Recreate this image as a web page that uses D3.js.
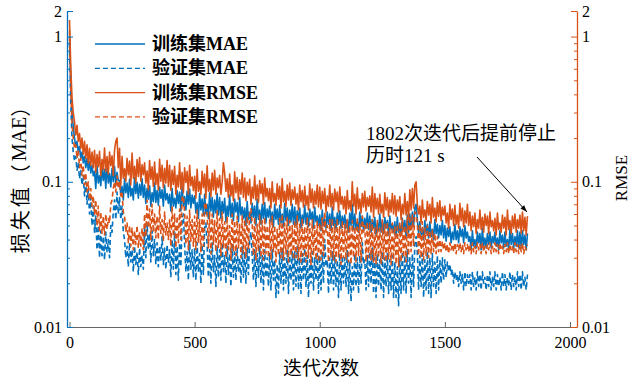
<!DOCTYPE html>
<html>
<head>
<meta charset="utf-8">
<script src="https://cdn.jsdelivr.net/npm/d3@7"></script>
<style>
  body { margin: 0; background: #fff; }
  svg { display: block; }
</style>
</head>
<body>
<svg id="chart"></svg>
<script>
// one stored point every 5 iterations, 0 .. 1830
const iterations = d3.range(0, 1831, 5);

const trainMAE = [
  1.0, .5, .3, .24, .2, .175, .19, .16, .175, .145, .16, .135, .15, .125, .145, .12, .138, .115, .13, .11,
  .118, .09, .13, .098, .11, .094, .126, .102, .122, .09, .136, .098, .114, .092, .124, .1, .128, .094, .116, .102,
  .102, .081, .093, .075, .105, .084, .098, .078, .104, .08, .09, .075, .107, .083, .099, .077, .096, .081, .105, .078,
  .095, .071, .09, .076, .094, .068, .084, .073, .098, .072, .087, .069, .092, .077, .088, .068, .095, .075, .083, .071,
  .082, .063, .09, .068, .077, .066, .087, .071, .085, .063, .094, .068, .079, .064, .086, .07, .089, .066, .081, .071,
  .08, .061, .072, .056, .083, .064, .076, .059, .082, .06, .07, .056, .084, .063, .078, .057, .075, .061, .083, .059,
  .078, .056, .073, .061, .077, .053, .068, .058, .081, .057, .071, .054, .076, .062, .072, .053, .078, .059, .067, .056,
  .066, .05, .073, .055, .062, .052, .071, .057, .068, .05, .076, .055, .064, .051, .07, .056, .072, .052, .065, .057,
  .068, .053, .062, .049, .07, .055, .065, .051, .069, .052, .06, .049, .071, .054, .066, .05, .064, .053, .07, .051,
  .067, .05, .063, .054, .066, .048, .059, .052, .069, .051, .061, .049, .065, .055, .062, .048, .067, .053, .058, .05,
  .059, .046, .064, .05, .055, .048, .062, .051, .06, .046, .067, .05, .057, .047, .061, .051, .063, .048, .058, .051,
  .059, .048, .055, .045, .061, .05, .07, .047, .06, .047, .053, .045, .062, .049, .058, .046, .056, .048, .061, .047,
  .058, .045, .055, .048, .057, .043, .052, .046, .06, .045, .054, .044, .057, .048, .054, .043, .058, .047, .051, .045,
  .053, .042, .057, .045, .05, .044, .056, .047, .054, .042, .059, .045, .06, .047, .062, .049, .066, .07, .055, .044,
  .053, .043, .048, .04, .054, .044, .051, .041, .053, .042, .047, .04, .055, .044, .051, .041, .05, .043, .054, .041,
  .05, .039, .048, .042, .049, .038, .045, .04, .051, .04, .046, .038, .049, .042, .047, .038, .05, .041, .045, .039,
  .042, .034, .046, .036, .04, .035, .045, .038, .044, .034, .048, .036, .041, .035, .044, .037, .045, .035, .042, .038,
  .045, .036, .041, .034, .046, .038, .043, .035, .045, .036, .04, .034, .047, .037, .044, .035, .042, .036, .046, .035,
  .045, .035, .046, .037, .043, .034, .044
];
const valMAE = [
  .9, .35, .2, .16, .14, .15, .12, .135, .105, .12, .095, .11, .08, .1, .07, .09, .06, .078, .05, .068,
  .045, .058, .034, .05, .03, .046, .031, .042, .029, .045, .033, .04, .03, .05, .045, .062, .075, .055, .085, .06,
  .078, .055, .068, .045, .04, .03, .036, .026, .038, .028, .034, .024, .036, .027, .033, .023, .035, .026, .031, .025,
  .048, .03, .052, .034, .044, .028, .046, .031, .04, .027, .038, .026, .036, .029, .042, .027, .035, .025, .037, .028,
  .034, .022, .04, .025, .045, .023, .036, .021, .038, .026, .055, .06, .037, .024, .033, .021, .039, .025, .034, .022,
  .035, .021, .038, .024, .032, .02, .037, .023, .048, .052, .036, .022, .034, .02, .038, .024, .031, .019, .036, .022,
  .034, .021, .038, .024, .031, .02, .036, .023, .032, .019, .037, .022, .033, .021, .035, .024, .03, .02, .036, .022,
  .033, .02, .035, .023, .04, .045, .031, .021, .034, .019, .032, .022, .036, .02, .031, .018, .034, .022, .03, .019,
  .032, .018, .034, .021, .029, .016, .027, .017, .033, .02, .035, .018, .03, .02, .034, .017, .031, .021, .033, .018,
  .033, .019, .036, .018, .03, .017, .032, .021, .035, .019, .031, .016, .029, .02, .033, .018, .03, .021, .032, .017,
  .031, .018, .033, .02, .04, .026, .029, .017, .03, .02, .033, .018, .031, .019, .029, .016, .032, .018, .031, .02,
  .03, .019, .034, .017, .028, .015, .026, .018, .032, .019, .03, .017, .031, .02, .038, .027, .029, .018, .031, .019,
  .033, .02, .035, .017, .03, .016, .032, .019, .029, .018, .033, .016, .03, .019, .032, .017, .029, .018, .031, .016,
  .028, .016, .026, .014, .03, .017, .033, .018, .031, .017, .034, .02, .03, .016, .032, .019, .037, .042, .032, .018,
  .031, .019, .032, .016, .029, .018, .033, .017, .03, .016, .032, .019, .028, .017, .031, .018, .029, .02, .03, .021,
  .029, .022, .028, .024, .027, .023, .025, .02, .024, .021, .023, .019, .024, .02, .023, .018, .024, .019, .023, .02,
  .023, .018, .024, .019, .022, .018, .024, .019, .023, .018, .024, .02, .022, .018, .023, .019, .024, .018, .022, .019,
  .024, .018, .023, .019, .022, .018, .024, .019, .023, .018, .022, .019, .024, .018, .023, .019, .022, .018, .024, .019,
  .023, .018, .024, .019, .022, .018, .023
];
const trainRMSE = [
  1.3, .62, .38, .3, .26, .21, .245, .19, .215, .17, .2, .155, .19, .145, .18, .135, .17, .13, .16, .125,
  .165, .116, .154, .127, .162, .11, .143, .121, .171, .118, .149, .113, .16, .129, .151, .11, .165, .19, .2, .125,
  .17, .095, .15, .106, .123, .101, .145, .112, .139, .095, .158, .106, .128, .098, .142, .109, .147, .101, .131, .112,
  .135, .098, .119, .088, .14, .104, .127, .093, .137, .096, .114, .088, .143, .101, .13, .091, .124, .098, .14, .093,
  .13, .087, .12, .096, .128, .082, .111, .092, .135, .089, .116, .084, .125, .099, .118, .082, .13, .094, .108, .087,
  .109, .077, .122, .086, .1, .082, .118, .091, .113, .077, .129, .086, .104, .079, .115, .088, .12, .082, .106, .091,
  .111, .082, .099, .135, .115, .086, .105, .078, .113, .08, .095, .074, .117, .084, .107, .076, .103, .082, .115, .078,
  .106, .074, .099, .081, .104, .07, .092, .077, .11, .075, .095, .072, .102, .083, .097, .07, .106, .079, .09, .074,
  .09, .066, .1, .073, .083, .069, .097, .076, .093, .066, .105, .073, .086, .068, .095, .075, .098, .069, .088, .076,
  .092, .07, .083, .064, .095, .073, .087, .067, .093, .069, .08, .064, .097, .072, .089, .066, .086, .07, .095, .067,
  .092, .065, .086, .071, .09, .062, .08, .068, .095, .067, .083, .064, .089, .073, .085, .062, .092, .07, .079, .065,
  .079, .06, .087, .065, .074, .063, .1, .068, .082, .06, .091, .065, .076, .061, .083, .067, .086, .063, .078, .068,
  .08, .062, .092, .057, .083, .065, .077, .06, .082, .061, .07, .057, .084, .064, .078, .058, .075, .062, .083, .06,
  .08, .058, .075, .063, .079, .055, .07, .06, .083, .059, .073, .056, .088, .064, .09, .066, .095, .1, .07, .06,
  .068, .052, .075, .057, .064, .054, .073, .059, .07, .052, .078, .057, .066, .053, .072, .058, .074, .054, .067, .059,
  .068, .052, .061, .048, .07, .055, .065, .05, .069, .051, .059, .048, .071, .054, .066, .049, .063, .052, .07, .05,
  .062, .046, .058, .049, .061, .044, .055, .048, .064, .047, .057, .045, .06, .05, .058, .044, .062, .049, .054, .046,
  .056, .043, .061, .047, .052, .045, .059, .048, .057, .043, .064, .047, .054, .044, .058, .048, .06, .045, .055, .048,
  .059, .044, .062, .046, .057, .043, .058
];
const valRMSE = [
  1.1, .45, .25, .2, .17, .18, .145, .165, .125, .145, .11, .13, .095, .115, .085, .1, .075, .09, .068, .08,
  .06, .075, .05, .068, .046, .062, .044, .058, .043, .06, .047, .056, .052, .07, .075, .09, .1, .085, .11, .09,
  .1, .08, .085, .062, .058, .045, .052, .038, .05, .036, .048, .034, .046, .037, .05, .035, .045, .036, .048, .034,
  .06, .042, .075, .048, .065, .04, .07, .045, .06, .041, .058, .04, .068, .044, .055, .039, .062, .043, .052, .04,
  .055, .036, .068, .042, .06, .035, .058, .038, .065, .04, .078, .08, .062, .037, .058, .034, .064, .039, .055, .036,
  .058, .034, .064, .038, .055, .033, .06, .036, .07, .072, .058, .035, .062, .032, .06, .037, .054, .033, .063, .035,
  .056, .031, .062, .035, .053, .03, .058, .034, .05, .029, .06, .033, .054, .031, .058, .035, .051, .03, .059, .032,
  .055, .03, .058, .034, .062, .065, .052, .031, .057, .029, .051, .033, .059, .03, .054, .029, .057, .032, .05, .03,
  .055, .029, .058, .033, .05, .028, .047, .031, .056, .03, .06, .029, .052, .032, .057, .028, .054, .031, .05, .029,
  .054, .03, .058, .029, .051, .028, .056, .031, .049, .028, .057, .03, .052, .027, .055, .031, .05, .029, .054, .028,
  .052, .029, .057, .031, .062, .045, .05, .028, .055, .03, .056, .029, .051, .028, .056, .03, .049, .027, .054, .03,
  .051, .029, .055, .028, .05, .027, .054, .03, .049, .028, .057, .031, .052, .028, .058, .045, .05, .028, .053, .03,
  .052, .029, .055, .028, .049, .027, .054, .03, .048, .027, .055, .029, .051, .028, .053, .029, .048, .027, .052, .029,
  .049, .027, .051, .026, .053, .028, .055, .03, .05, .028, .057, .031, .058, .033, .06, .036, .062, .06, .052, .031,
  .051, .03, .053, .029, .048, .031, .05, .03, .046, .032, .047, .033, .044, .032, .042, .033, .04, .033, .039, .034,
  .038, .033, .037, .032, .038, .034, .037, .033, .038, .032, .037, .034, .038, .033, .037, .032, .038, .034, .037, .033,
  .037, .032, .038, .033, .036, .032, .038, .034, .037, .032, .038, .033, .036, .032, .037, .034, .038, .032, .036, .033,
  .038, .033, .037, .032, .038, .034, .036, .032, .037, .033, .038, .032, .037, .034, .036, .032, .038, .033, .037, .032,
  .037, .033, .038, .032, .036, .034, .037
];

const seriesNames = ["训练集MAE", "验证集MAE", "训练集RMSE", "验证集RMSE"];
const xTicks = [0, 500, 1000, 1500, 2000];
const yTicks = [0.01, 0.1, 1, 1.5]; // top tick is printed rounded, as "2"
const yMinorTicks = [0.02, 0.03, 0.04, 0.05, 0.06, 0.07, 0.08, 0.09,
                     0.2, 0.3, 0.4, 0.5, 0.6, 0.7, 0.8, 0.9];
const noteLines = ["1802次迭代后提前停止", "历时121 s"];

const BLUE = "#0072BD", ORANGE = "#D95319";
const FONT = "'Liberation Serif', 'Times New Roman', 'Noto Sans CJK SC', serif";
const CJK = "'Noto Sans CJK SC', sans-serif";

class LossChart {
  constructor(_config) {
    this.config = {
      parentElement: _config.parentElement,
      containerWidth: _config.containerWidth || 633,
      containerHeight: _config.containerHeight || 380,
      margin: { top: 11, bottom: 53, right: 56, left: 67 },
    }
    this.series = [
      { name: seriesNames[0], values: trainMAE, color: BLUE, dash: null },
      { name: seriesNames[1], values: valMAE, color: BLUE, dash: "5,3" },
      { name: seriesNames[2], values: trainRMSE, color: ORANGE, dash: null },
      { name: seriesNames[3], values: valRMSE, color: ORANGE, dash: "5,3" },
    ];
    this.initVis();
  }

  initVis() {
    let vis = this;
    vis.width = vis.config.containerWidth - vis.config.margin.left - vis.config.margin.right;
    vis.height = vis.config.containerHeight - vis.config.margin.top - vis.config.margin.bottom;

    vis.root = d3.select(vis.config.parentElement)
      .attr('width', vis.config.containerWidth)
      .attr('height', vis.config.containerHeight)
      .style('font-family', FONT);

    vis.svg = vis.root.append('g')
      .attr('transform', `translate(${vis.config.margin.left},${vis.config.margin.top})`);

    // x axis box runs a little past 0 and 2000
    vis.x = d3.scaleLinear().domain([-10, 2028]).range([0, vis.width]);
    vis.y = d3.scaleLog().domain([0.01, 1.5]).range([vis.height, 0]);

    vis.updateVis();
  }

  updateVis() {
    let vis = this;

    vis.svg.append('clipPath').attr('id', 'plot-clip')
      .append('rect').attr('width', vis.width).attr('height', vis.height);

    const line = d3.line()
      .x((d, i) => vis.x(iterations[i]))
      .y(d => vis.y(d));

    vis.svg.append('g').attr('clip-path', 'url(#plot-clip)')
      .selectAll('path')
      .data(vis.series)
      .join('path')
      .attr('fill', 'none')
      .attr('stroke', d => d.color)
      .attr('stroke-width', 1.6)
      .attr('stroke-dasharray', d => d.dash)
      .attr('stroke-linejoin', 'round')
      .attr('d', d => line(d.values));

    // bottom axis (ticks point inside)
    const xAxis = vis.svg.append('g')
      .attr('transform', `translate(0,${vis.height})`)
      .call(d3.axisBottom(vis.x).tickValues(xTicks).tickFormat(d3.format('d'))
        .tickSize(-5).tickSizeOuter(0).tickPadding(10));
    xAxis.select('.domain').attr('stroke', '#666');
    xAxis.selectAll('.tick line').attr('stroke', '#666');

    const fmt = d => d >= 1 ? d3.format('.0f')(d) : String(d);

    // left and right log axes
    vis.yAxes = [{ side: 'left', color: BLUE, dx: 0 }, { side: 'right', color: ORANGE, dx: vis.width }].map(a => {
      const make = a.side === 'left' ? d3.axisLeft : d3.axisRight;
      const g = vis.svg.append('g').attr('transform', `translate(${a.dx},0)`);
      g.call(make(vis.y).tickValues(yTicks).tickFormat(fmt).tickSize(-6).tickSizeOuter(0).tickPadding(5));
      g.append('g').call(make(vis.y).tickValues(yMinorTicks).tickFormat('').tickSize(-3).tickSizeOuter(0))
        .select('.domain').remove();
      g.selectAll('.domain').attr('stroke', a.color).attr('stroke-width', 1.3);
      g.selectAll('.tick line').attr('stroke', a.color);
      return g;
    });

    [xAxis, ...vis.yAxes].forEach(g => {
      g.attr('font-family', FONT).attr('font-size', 16);
      g.selectAll('.tick text')
        .attr('fill', '#000')
        .style('font-family', FONT)
        .style('font-size', '16px');
    });

    // axis titles
    const yTitle = vis.root.append('text')
      .attr('transform', 'translate(19,175) rotate(-90)')
      .attr('text-anchor', 'middle')
      .attr('dominant-baseline', 'central')
      .style('font-size', '20px');
    yTitle.append('tspan').style('font-family', CJK).style('letter-spacing', '3px').text('损失值（');
    yTitle.append('tspan').text('MAE');
    yTitle.append('tspan').style('font-family', CJK).text('）');

    vis.root.append('text')
      .attr('transform', 'translate(621,178) rotate(-90)')
      .attr('text-anchor', 'middle')
      .attr('dominant-baseline', 'central')
      .style('font-size', '17px')
      .text('RMSE');

    vis.root.append('text')
      .attr('x', 321)
      .attr('y', 375)
      .attr('text-anchor', 'middle')
      .style('font-size', '19px')
      .text('迭代次数');

    // legend
    const legend = vis.root.append('g').attr('transform', 'translate(95,44)');
    const row = legend.selectAll('g')
      .data(vis.series)
      .join('g')
      .attr('transform', (d, i) => `translate(0,${i * 24.3})`);
    row.append('line')
      .attr('x1', 0).attr('x2', 50)
      .attr('stroke', d => d.color)
      .attr('stroke-width', 1.3)
      .attr('stroke-dasharray', d => d.dash);
    row.append('text')
      .attr('x', 57)
      .attr('dominant-baseline', 'central')
      .style('font-size', '18px')
      .style('font-weight', 'bold')
      .text(d => d.name);

    // early stopping note + arrow
    vis.root.append('defs').append('marker')
      .attr('id', 'arrowhead')
      .attr('viewBox', '0 0 10 10')
      .attr('refX', 10).attr('refY', 5)
      .attr('markerWidth', 9).attr('markerHeight', 7)
      .attr('orient', 'auto')
      .attr('markerUnits', 'userSpaceOnUse')
      .append('path').attr('d', 'M0,1.5 L10,5 L0,8.5 Z').attr('fill', '#000');

    vis.root.selectAll('.note')
      .data(noteLines)
      .join('text')
      .attr('class', 'note')
      .attr('x', 366)
      .attr('y', (d, i) => 140 + i * 22)
      .style('font-size', '19px')
      .text(d => d);

    vis.root.append('line')
      .attr('x1', 477).attr('y1', 157)
      .attr('x2', 527).attr('y2', 212)
      .attr('stroke', '#000')
      .attr('stroke-width', 1)
      .attr('marker-end', 'url(#arrowhead)');
  }
}

new LossChart({ parentElement: '#chart', containerWidth: 633, containerHeight: 380 });
</script>
</body>
</html>
